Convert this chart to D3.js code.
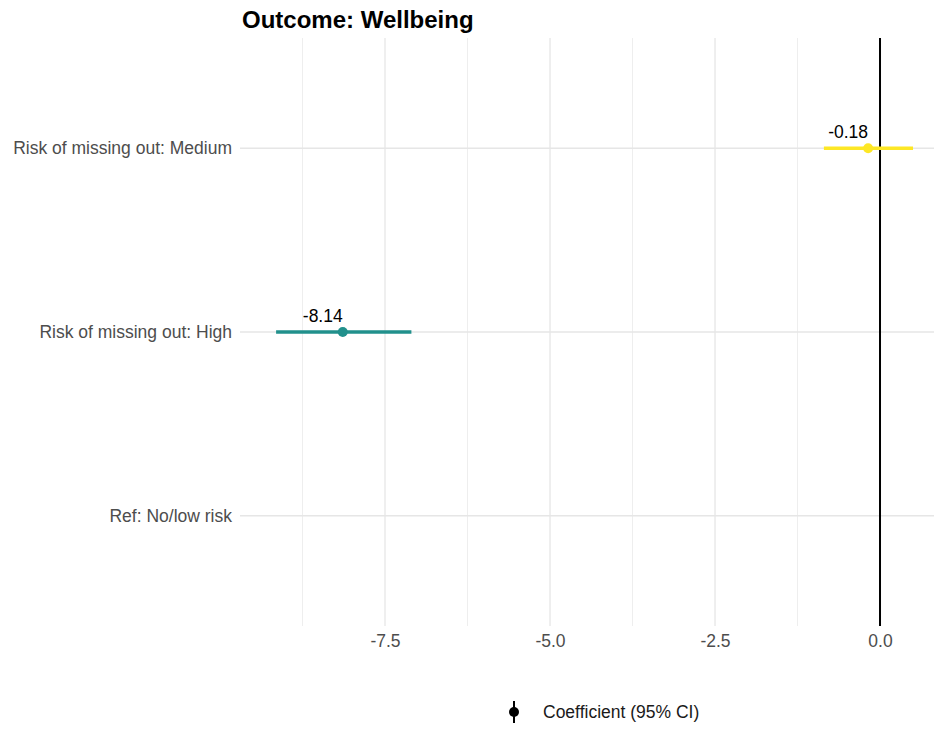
<!DOCTYPE html>
<html>
<head>
<meta charset="utf-8">
<script src="https://cdn.jsdelivr.net/npm/d3@7/dist/d3.min.js"></script>
<style>
  html, body { margin: 0; padding: 0; background: #fff; }
  svg { display: block; font-family: "Liberation Sans", Arial, Helvetica, sans-serif; }
</style>
</head>
<body>
<svg id="chart" width="934" height="729"></svg>
<script>
// Model terms, top to bottom
const terms = ["Risk of missing out: Medium", "Risk of missing out: High", "Ref: No/low risk"];
// Coefficients and 95% confidence limits (reference level has none)
const estimates = [-0.18, -8.14, null];
const ciLow = [-0.85, -9.15, null];
const ciHigh = [0.50, -7.10, null];
const termColors = ["#FDE725", "#21908C", "#440154"];
const xTicks = [-7.5, -5.0, -2.5, 0.0];
const xMinorTicks = [-8.75, -6.25, -3.75, -1.25];

const rows = terms.map((t, i) => ({
  term: t, est: estimates[i], lo: ciLow[i], hi: ciHigh[i], color: termColors[i]
}));

// plain hyphen-minus for negative numbers
const locale = d3.formatLocale({ decimal: ".", thousands: ",", grouping: [3], currency: ["", ""], minus: "-" });
const fmt1 = locale.format(".1f");
const fmt2 = locale.format(".2f");

const FONT = "'Liberation Sans', Arial, Helvetica, sans-serif";
const svg = d3.select("#chart");
const panel = { left: 240, right: 934, top: 38, bottom: 626 };

const x = d3.scaleLinear()
  .domain([-9.697, 0.818])
  .range([panel.left, panel.right]);

const y = d3.scalePoint()
  .domain(terms)
  .range([panel.top, panel.bottom])
  .padding(0.6);

const grid = svg.append("g");
// minor vertical grid
grid.selectAll(".vminor").data(xMinorTicks).join("line")
  .attr("x1", d => x(d)).attr("x2", d => x(d))
  .attr("y1", panel.top).attr("y2", panel.bottom)
  .attr("stroke", "#eeeeee").attr("stroke-width", 1);
// major vertical grid
grid.selectAll(".vmajor").data(xTicks).join("line")
  .attr("x1", d => x(d)).attr("x2", d => x(d))
  .attr("y1", panel.top).attr("y2", panel.bottom)
  .attr("stroke", "#e6e6e6").attr("stroke-width", 1.3);
// horizontal grid
grid.selectAll(".hmajor").data(terms).join("line")
  .attr("x1", panel.left).attr("x2", panel.right)
  .attr("y1", d => y(d)).attr("y2", d => y(d))
  .attr("stroke", "#e6e6e6").attr("stroke-width", 1.3);

// y axis labels
const yAxis = svg.append("g")
  .attr("transform", `translate(${panel.left},0)`)
  .call(d3.axisLeft(y).tickSize(0).tickPadding(8));
yAxis.select(".domain").remove();
yAxis.selectAll("text")
  .attr("fill", "#4d4d4d").style("font-size", "17.5px")
  .style("font-family", FONT);

// x axis labels
const xAxis = svg.append("g")
  .attr("transform", `translate(0,${panel.bottom})`)
  .call(d3.axisBottom(x).tickValues(xTicks).tickFormat(fmt1).tickSize(0).tickPadding(9));
xAxis.select(".domain").remove();
xAxis.selectAll("text")
  .attr("fill", "#4d4d4d").style("font-size", "17.5px")
  .style("font-family", FONT);

// zero reference line
svg.append("line")
  .attr("x1", x(0)).attr("x2", x(0))
  .attr("y1", panel.top).attr("y2", panel.bottom)
  .attr("stroke", "#000").attr("stroke-width", 2);

const withEst = rows.filter(d => d.est !== null);

// confidence intervals
svg.selectAll(".ci").data(withEst).join("line")
  .attr("x1", d => x(d.lo)).attr("x2", d => x(d.hi))
  .attr("y1", d => y(d.term)).attr("y2", d => y(d.term))
  .attr("stroke", d => d.color).attr("stroke-width", 3.6);

// point estimates
svg.selectAll(".pt").data(withEst).join("circle")
  .attr("cx", d => x(d.est)).attr("cy", d => y(d.term))
  .attr("r", 5).attr("fill", d => d.color);

// value labels
svg.selectAll(".lab").data(withEst).join("text")
  .attr("x", d => x(d.est) - 20).attr("y", d => y(d.term) - 10)
  .attr("text-anchor", "middle")
  .attr("fill", "#000").style("font-size", "17.5px")
  .text(d => fmt2(d.est));

// title
svg.append("text")
  .attr("x", 242).attr("y", 28)
  .style("font-size", "24px").style("font-weight", "bold")
  .attr("fill", "#000")
  .text("Outcome: Wellbeing");

// legend
const lg = svg.append("g").attr("transform", "translate(514,712)");
lg.append("line").attr("x1", 0).attr("x2", 0).attr("y1", -11).attr("y2", 11)
  .attr("stroke", "#000").attr("stroke-width", 2);
lg.append("circle").attr("r", 5).attr("fill", "#000");
lg.append("text").attr("x", 29).attr("y", 6)
  .style("font-size", "17.5px").attr("fill", "#1a1a1a")
  .text("Coefficient (95% CI)");
</script>
</body>
</html>
